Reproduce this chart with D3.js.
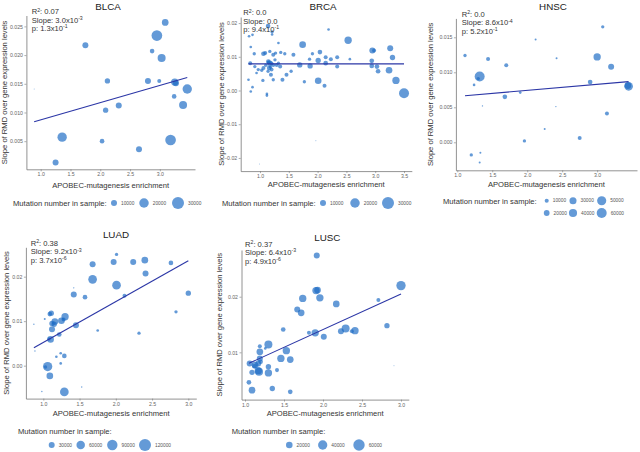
<!DOCTYPE html>
<html>
<head>
<meta charset="utf-8">
<script src="https://cdn.jsdelivr.net/npm/d3@7"></script>
<style>
  body { margin: 0; background: #fff; }
  text { font-family: "Liberation Sans", Arial, sans-serif; }
</style>
</head>
<body>
<svg id="chart" width="640" height="452"></svg>
<script>
// ---- data: [APOBEC enrichment, slope of RMD, mutation number] ----
const panelNames = ['BLCA', 'BRCA', 'HNSC', 'LUAD', 'LUSC'];

const blcaPoints = [
  [0.89, 0.0141, 3500], [1.75, 0.0217, 10000], [2.12, 0.0155, 8600], [2.09, 0.0104, 8600],
  [2.31, 0.0112, 10000], [2.03, 0.0050, 7300], [1.36, 0.0057, 19500], [1.25, 0.0013, 10000],
  [2.65, 0.0036, 10000], [2.80, 0.0155, 10000], [2.95, 0.0234, 24400], [2.87, 0.0207, 7300],
  [3.03, 0.0195, 15200], [3.09, 0.0257, 11600], [2.99, 0.0155, 6300], [3.25, 0.0153, 13300],
  [3.27, 0.0151, 10000], [3.24, 0.0128, 7300], [3.46, 0.0141, 19500], [3.39, 0.0113, 15200],
  [3.18, 0.0052, 24400]
];

const brcaPoints = [
  [0.99, -0.0218, 3400], [1.97, -0.0149, 3500], [0.81, 0.0161, 4650], [0.87, 0.0165, 4650],
  [1.14, 0.0191, 7360], [1.21, 0.0174, 5390], [1.21, 0.0166, 4650], [2.19, 0.0181, 4650],
  [0.84, 0.0129, 4650], [1.32, 0.0141, 4650], [0.90, 0.0109, 5390], [1.06, 0.0109, 7360],
  [1.09, 0.0111, 6300], [1.17, 0.0116, 5390], [1.23, 0.0106, 6300], [1.27, 0.0111, 5390],
  [1.36, 0.0113, 5390], [1.43, 0.0109, 5390], [1.58, 0.0106, 6300], [1.74, 0.0136, 11560],
  [1.86, 0.0093, 5390], [1.91, 0.0109, 5390], [2.04, 0.0114, 7360], [2.14, 0.0099, 6300],
  [2.23, 0.0093, 6300], [2.34, 0.0099, 6300], [2.53, 0.0149, 13300], [2.56, 0.0093, 4650],
  [2.95, 0.0119, 10000], [2.98, 0.0119, 6300], [3.26, 0.0125, 10000], [3.30, 0.0098, 8600],
  [2.94, 0.0088, 7360], [2.94, 0.0073, 7360], [3.03, 0.0071, 7360], [3.05, 0.0057, 7360],
  [3.24, 0.0060, 11560], [3.36, 0.0030, 13300], [3.50, -0.0008, 21850], [2.01, 0.0029, 11560],
  [2.12, 0.0014, 6300], [1.77, 0.0026, 5390], [1.69, 0.0076, 8600], [1.87, 0.0073, 8600],
  [2.01, 0.0089, 8600], [2.14, 0.0081, 7360], [2.34, 0.0071, 6300], [1.46, 0.0047, 6300],
  [1.54, 0.0057, 5390], [1.39, 0.0032, 6300], [1.23, 0.0032, 5390], [1.05, 0.0030, 5390],
  [0.80, 0.0032, 4650], [0.87, 0.0010, 4650], [0.84, -0.0003, 4650], [1.12, -0.0010, 4650],
  [1.12, -0.0015, 4650], [1.145, 0.0086, 7360], [1.17, 0.0081, 8600], [1.23, 0.0076, 6300],
  [1.29, 0.0076, 6300], [1.35, 0.0071, 6300], [1.16, 0.0067, 7360], [1.20, 0.0062, 6300],
  [1.14, 0.0057, 5390], [1.19, 0.0047, 6300], [1.26, 0.0091, 5390], [1.32, 0.0081, 5390],
  [1.06, 0.0067, 6300], [0.97, 0.0062, 5390], [1.03, 0.0060, 5390], [0.91, 0.0071, 5390],
  [0.83, 0.0081, 6300], [0.94, 0.0052, 4650], [1.15, 0.0083, 6300], [1.20, 0.0080, 6300],
  [1.18, 0.0070, 5390], [1.10, 0.0075, 5390]
];

const hnscPoints = [
  [1.11, 0.0124, 6670], [1.44, 0.0119, 9600], [1.70, 0.0110, 9600], [1.32, 0.0094, 60000],
  [1.30, 0.0091, 6670], [1.24, 0.0082, 4270], [1.36, 0.0052, 1070], [1.68, 0.0065, 13070],
  [1.90, 0.0071, 4270], [2.12, 0.0147, 2400], [2.42, 0.0120, 2400], [2.41, 0.0051, 1070],
  [2.25, 0.0019, 2400], [1.96, 0.0002, 6670], [2.75, 0.0006, 9600], [1.20, -0.0018, 6670],
  [1.33, -0.0015, 2400], [1.32, -0.0029, 2400], [3.08, 0.0165, 6670], [3.00, 0.0122, 32270],
  [3.20, 0.0108, 21600], [2.90, 0.0086, 13070], [3.14, 0.0041, 9600], [3.45, 0.0080, 45000],
  [3.44, 0.0081, 26700]
];

const luadPoints = [
  [0.87, 0.0093, 1480], [0.885, 0.0033, 1480], [0.98, -0.0058, 1480], [1.02, 0.0105, 3333],
  [1.06, -0.0002, 72600], [1.03, -0.0003, 9260], [1.09, -0.0023, 37000], [1.10, 0.0059, 37000],
  [1.08, 0.0060, 9260], [1.11, 0.0118, 23700], [1.09, 0.0116, 18100], [1.12, 0.0082, 30000],
  [1.12, 0.0095, 23700], [1.15, 0.0093, 23700], [1.16, 0.0099, 37000], [1.25, 0.0101, 37000],
  [1.30, 0.0110, 44800], [1.28, 0.0104, 13300], [1.22, 0.0070, 18100], [1.18, 0.0020, 5900],
  [1.24, 0.0028, 5900], [1.29, 0.0022, 18100], [1.24, 0.0005, 5900], [1.29, -0.0059, 62600],
  [1.42, 0.0175, 1480], [1.42, 0.0160, 30000], [1.45, 0.0091, 30000], [1.575, 0.0154, 18100],
  [1.68, 0.0228, 30000], [1.68, 0.0194, 62600], [1.75, 0.0079, 5900], [1.97, 0.0233, 30000],
  [2.01, 0.0250, 9260], [2.01, 0.0181, 62600], [2.12, 0.0157, 13300], [2.24, 0.0233, 30000],
  [2.32, 0.0073, 9260], [2.40, 0.0237, 37000], [2.41, 0.0207, 30000], [2.76, 0.0231, 18100],
  [2.83, 0.0121, 9260], [3.00, 0.0163, 23700], [1.53, -0.0048, 1480]
];

const luscPoints = [
  [1.92, 0.0274, 16650], [1.91, 0.0211, 24870], [1.93, 0.0212, 20560], [1.74, 0.0197, 24870],
  [1.96, 0.0198, 24870], [2.17, 0.0187, 20560], [1.67, 0.0177, 16650], [1.72, 0.0171, 20560],
  [2.71, 0.0194, 7400], [3.00, 0.0220, 40290], [2.82, 0.0148, 13150], [1.49, 0.0141, 10070],
  [1.82, 0.0135, 7400], [1.90, 0.0135, 24870], [2.01, 0.0128, 16650], [2.23, 0.0138, 16650],
  [2.29, 0.0143, 29600], [2.41, 0.0139, 24870], [2.37, 0.0138, 7400], [1.30, 0.0114, 29600],
  [1.19, 0.0111, 7400], [1.26, 0.0107, 3290], [1.19, 0.0101, 20560], [1.53, 0.0103, 24870],
  [1.46, 0.0089, 24870], [1.58, 0.0087, 20560], [1.19, 0.0089, 16650], [1.06, 0.0080, 16650],
  [1.13, 0.0077, 20560], [1.17, 0.0080, 16650], [1.30, 0.0074, 13150], [1.41, 0.0068, 7400],
  [1.09, 0.0064, 13150], [1.17, 0.0067, 24870], [1.18, 0.0065, 29600], [1.30, 0.0063, 24870],
  [1.05, 0.0046, 10070], [1.09, 0.0032, 20560], [1.35, 0.0035, 13150], [1.58, 0.0029, 10070],
  [2.91, 0.0076, 200], [1.12, 0.0075, 10070], [1.20, 0.0083, 10070]
];

const panelPoints = [blcaPoints, brcaPoints, hnscPoints, luadPoints, luscPoints];

// linear fits and stats
const fitIntercept = [0.0057, 0.0079, 0.0057, -0.0040, 0.0013];
const fitSlope = [0.0030, 0.0, 0.00086, 0.0092, 0.0064];
const statR2 = ['0.07', '0.0', '0.0', '0.38', '0.37'];
const statSlope = [['3.0x10', '-3'], ['0.0', ''], ['8.6x10', '-4'], ['9.2x10', '-3'], ['6.4x10', '-3']];
const statP = [['1.3x10', '-1'], ['9.4x10', '-1'], ['5.2x10', '-1'], ['3.7x10', '-6'], ['4.9x10', '-6']];

// ticks
const xTicks = [
  [1, 1.5, 2, 2.5, 3], [1, 1.5, 2, 2.5, 3, 3.5], [1, 1.5, 2, 2.5, 3], [1, 1.5, 2, 2.5, 3], [1, 1.5, 2, 2.5, 3]
];
const yTicks = [
  [0.005, 0.01, 0.015, 0.02, 0.025], [-0.02, -0.01, 0, 0.01, 0.02], [0, 0.005, 0.01, 0.015], [0, 0.01, 0.02], [0.01, 0.02]
];
const yTickFormat = ['.3f', '.2f', '.3f', '.2f', '.2f'];
const legendBreaks = [
  [10000, 20000, 30000], [10000, 20000, 30000], [10000, 20000, 30000, 40000, 50000, 60000],
  [30000, 60000, 90000, 120000], [20000, 40000, 60000]
];

// ---- layout ----
const layout = [
  { left: 26.4, right: 195, top: 15.5, bottom: 169.3, xdom: [0.76, 3.59], ydom: [0.0001, 0.0269],
    rdom: [10000, 30000], rran: [3, 6], titleX: 108, titleY: 9.5, statX: 31.7, statY: 14.4, yTitleX: 7, xTitleY: 187.6,
    legTitle: [13, 205.8], legKeys: [[114, 203], [144, 203], [178, 203]] },
  { left: 240.7, right: 411.8, top: 17, bottom: 171.1, xdom: [0.665, 3.635], ydom: [-0.0239, 0.0218],
    rdom: [10000, 30000], rran: [3, 6], titleX: 323, titleY: 10, statX: 243.3, statY: 15.4, yTitleX: 223.5, xTitleY: 186.8,
    legTitle: [222, 205.8], legKeys: [[323, 203], [355, 203], [388, 203]] },
  { left: 455.9, right: 637, top: 18.4, bottom: 170.3, xdom: [0.98, 3.57], ydom: [-0.004, 0.0177],
    rdom: [0, 60000], rran: [0, 5], titleX: 553, titleY: 10, statX: 461.7, statY: 17, yTitleX: 432.8, xTitleY: 186.8,
    legTitle: [443, 203.5], legKeys: [[546.7, 200.7], [546.7, 213], [573, 200.7], [573, 213], [601.7, 200.7], [601.7, 213]] },
  { left: 25.9, right: 196.3, top: 247.3, bottom: 398.6, xdom: [0.76, 3.11], ydom: [-0.0074, 0.0266],
    rdom: [0, 120000], rran: [0, 6], titleX: 116, titleY: 238.3, statX: 30.7, statY: 246, yTitleX: 8.5, xTitleY: 415.5,
    legTitle: [18, 433.8], legKeys: [[51.7, 445], [80.7, 445], [112.3, 445], [145, 445]] },
  { left: 241.5, right: 408.8, top: 250, bottom: 399.6, xdom: [0.955, 3.1], ydom: [0.0015, 0.0284],
    rdom: [0, 60000], rran: [0, 5.7], titleX: 327.3, titleY: 240.7, statX: 245, statY: 246.8, yTitleX: 222, xTitleY: 415.8,
    legTitle: [231.7, 433.5], legKeys: [[289.3, 445], [322.7, 445], [359, 445]] }
];

const pointColor = '#1a6ac4';
const pointOpacity = 0.68;
const lineColor = '#2b36a6';
const axisColor = '#777';
const tickTextColor = '#666';
const textColor = '#333';
const textSize = 7.6;

const svg = d3.select('#chart');

function supText(g, x, y, parts) {
  // parts: [[text, isSup], ...]; a normal part after a superscript drops back down
  const t = g.append('text').attr('x', x).attr('y', y)
    .attr('font-size', textSize).attr('fill', textColor);
  let raised = false;
  parts.forEach(function(p) {
    if (!p[0]) return;
    const s = t.append('tspan').text(p[0]);
    if (p[1]) {
      s.attr('dy', -2.8).attr('font-size', 5.2);
      raised = true;
    } else if (raised) {
      s.attr('dy', 2.8);
      raised = false;
    }
  });
  return t;
}

function drawPanel(p, i) {
  const g = svg.append('g');
  const x = d3.scaleLinear().domain(p.xdom).range([p.left, p.right]);
  const y = d3.scaleLinear().domain(p.ydom).range([p.bottom, p.top]);
  const r = d3.scaleRadial().domain(p.rdom).range(p.rran);
  const rad = function(n) { return Math.max(0.45, r(n) || 0.45); };
  const pts = panelPoints[i];

  // axes
  const xAxis = d3.axisBottom(x).tickValues(xTicks[i]).tickFormat(d3.format('.1f'))
    .tickSize(2).tickSizeOuter(0).tickPadding(1.5);
  const yAxis = d3.axisLeft(y).tickValues(yTicks[i]).tickFormat(d3.format(yTickFormat[i]))
    .tickSize(2).tickSizeOuter(0).tickPadding(1.5);

  const gx = g.append('g').attr('transform', 'translate(0,' + p.bottom + ')').call(xAxis);
  const gy = g.append('g').attr('transform', 'translate(' + p.left + ',0)').call(yAxis);
  [gx, gy].forEach(function(a) {
    a.select('.domain').attr('stroke', axisColor).attr('stroke-width', 0.8);
    a.selectAll('.tick line').attr('stroke', axisColor).attr('stroke-width', 0.6);
    a.selectAll('.tick text').attr('fill', tickTextColor).attr('font-size', 5.2)
      .attr('font-family', '"Liberation Sans", Arial, sans-serif');
  });

  // points
  g.append('g').selectAll('circle').data(pts).join('circle')
    .attr('cx', function(d) { return x(d[0]); })
    .attr('cy', function(d) { return y(d[1]); })
    .attr('r', function(d) { return rad(d[2]); })
    .attr('fill', pointColor)
    .attr('fill-opacity', pointOpacity);

  // fitted line over the data range
  const ext = d3.extent(pts, function(d) { return d[0]; });
  g.append('line')
    .attr('x1', x(ext[0])).attr('y1', y(fitIntercept[i] + fitSlope[i] * ext[0]))
    .attr('x2', x(ext[1])).attr('y2', y(fitIntercept[i] + fitSlope[i] * ext[1]))
    .attr('stroke', lineColor).attr('stroke-width', 1.1);

  // title
  g.append('text').attr('x', p.titleX).attr('y', p.titleY)
    .attr('text-anchor', 'middle').attr('font-size', 9.8).attr('fill', '#222')
    .text(panelNames[i]);

  // stats
  supText(g, p.statX, p.statY, [['R', false], ['2', true], [': ' + statR2[i], false]]);
  supText(g, p.statX, p.statY + 8.4, [['Slope: ' + statSlope[i][0], false], [statSlope[i][1], true]]);
  supText(g, p.statX, p.statY + 16.8, [['p: ' + statP[i][0], false], [statP[i][1], true]]);

  // axis titles
  g.append('text').attr('x', (p.left + p.right) / 2).attr('y', p.xTitleY)
    .attr('text-anchor', 'middle').attr('font-size', textSize).attr('fill', textColor)
    .text('APOBEC-mutagenesis enrichment');
  g.append('text')
    .attr('transform', 'translate(' + p.yTitleX + ',' + ((p.top + p.bottom) / 2) + ') rotate(-90)')
    .attr('text-anchor', 'middle').attr('font-size', textSize).attr('fill', textColor)
    .text('Slope of RMD over gene expression levels');

  // legend
  g.append('text').attr('x', p.legTitle[0]).attr('y', p.legTitle[1])
    .attr('font-size', textSize).attr('fill', textColor).text('Mutation number in sample:');
  const keys = g.append('g').selectAll('g').data(legendBreaks[i]).join('g');
  keys.append('circle')
    .attr('cx', function(d, k) { return p.legKeys[k][0]; })
    .attr('cy', function(d, k) { return p.legKeys[k][1]; })
    .attr('r', function(d) { return rad(d); })
    .attr('fill', pointColor).attr('fill-opacity', pointOpacity);
  keys.append('text')
    .attr('x', function(d, k) { return p.legKeys[k][0] + rad(d) + 4; })
    .attr('y', function(d, k) { return p.legKeys[k][1] + 1.7; })
    .attr('font-size', 4.8).attr('fill', '#555')
    .text(function(d) { return d; });
}

layout.forEach(drawPanel);
</script>
</body>
</html>
